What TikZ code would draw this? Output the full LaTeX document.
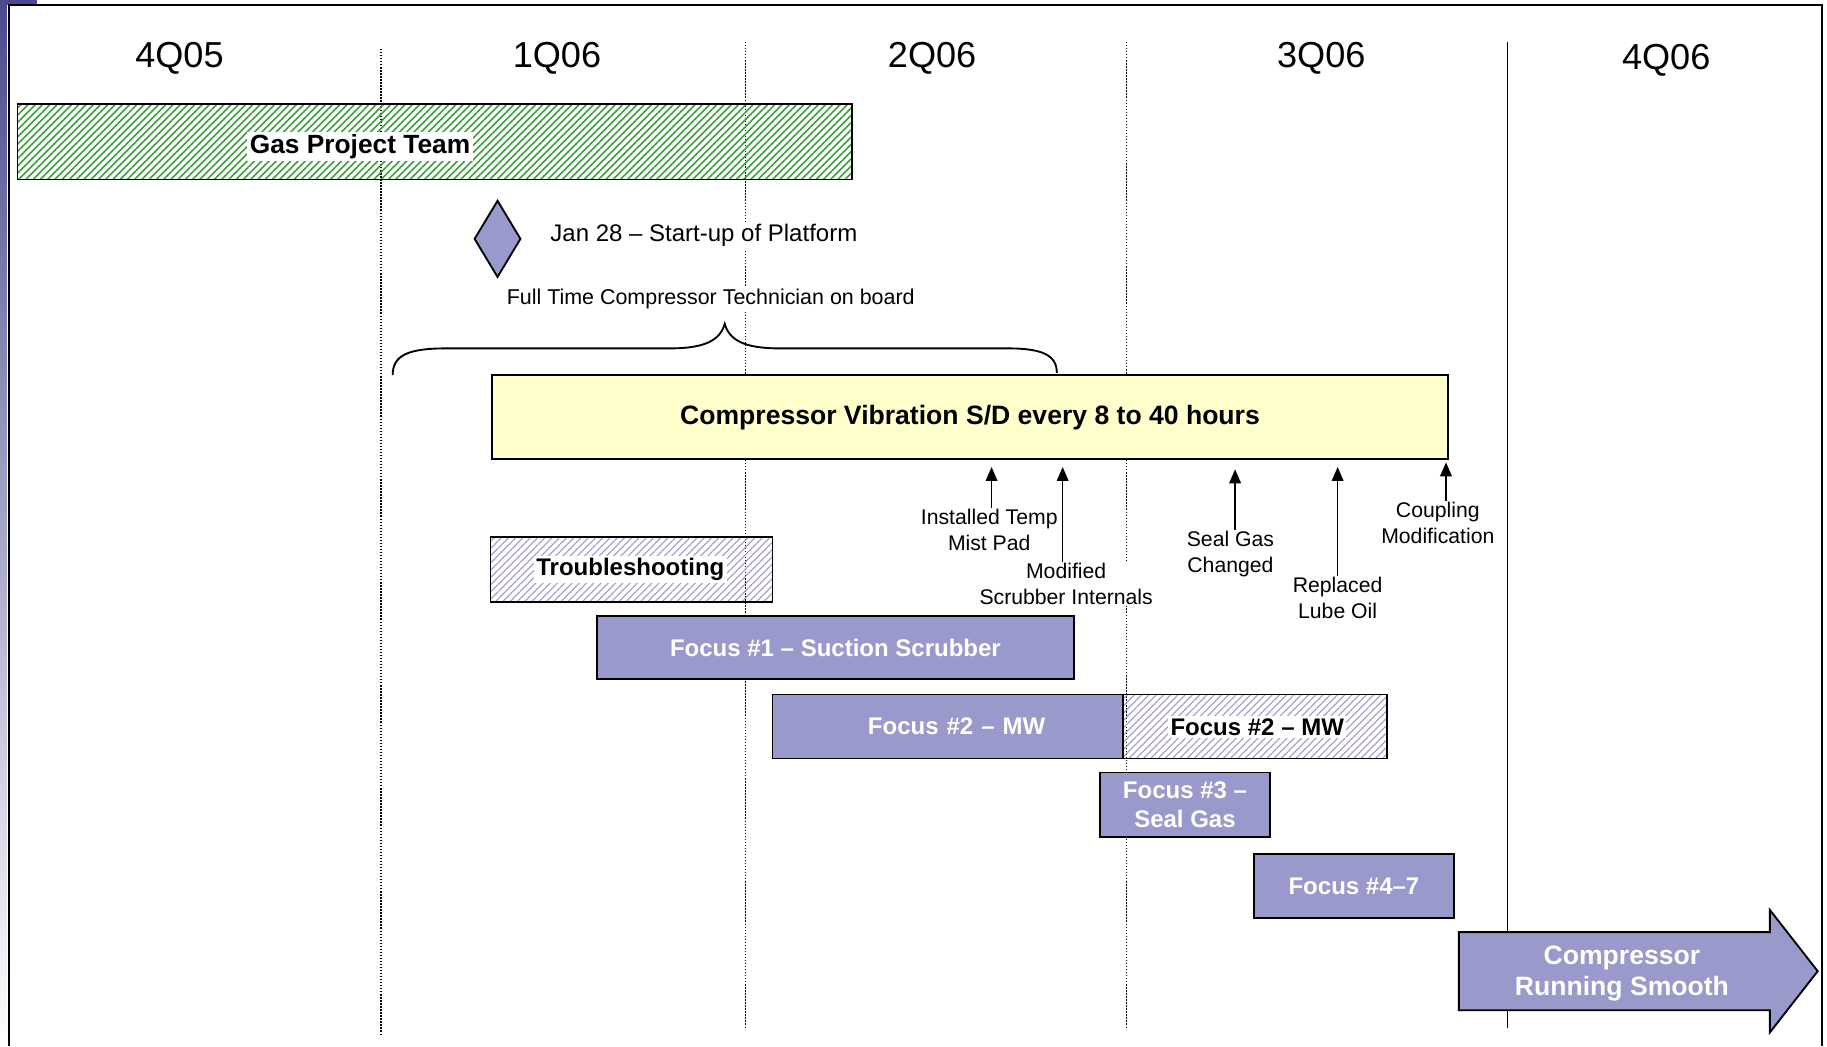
\documentclass[tikz,border=0pt]{standalone}
\usepackage{fontspec}
\setmainfont{Liberation Sans}
\usetikzlibrary{arrows.meta,patterns.meta,shapes.geometric}

\definecolor{focusblue}{HTML}{9999CC}
\definecolor{vibyellow}{HTML}{FFFFCC}
\definecolor{teamgreen}{HTML}{3A9E3A}
\definecolor{framepurple}{HTML}{4B4A8E}

\begin{document}
\begin{tikzpicture}[x=0.5pt,y=-0.5pt,
  bar/.style={draw,line width=0.8pt,inner sep=0pt},
  focusbar/.style={bar,fill=focusblue,text=white,align=center,font=\fontsize{10.3}{12.5}\selectfont\bfseries},
  hatchbar/.style={bar,pattern={Lines[angle=45,distance=2.2pt,line width=#1]}},
  tag/.style={fill=white,inner sep=1pt},
  quarter/.style={font=\fontsize{15.5}{18}\selectfont},
  divider/.style={line width=0.6pt,dash pattern=on 0.6pt off 0.7pt},
  event/.style={align=center,fill=white,inner sep=0.5pt,font=\fontsize{9.1}{11}\selectfont},
  eventarrow/.style={-{Triangle[length=6pt,width=5pt]},line width=0.7pt}]

\useasboundingbox (0,0) rectangle (1568,898);

% Frame
\shade[top color=framepurple,middle color=framepurple!75,bottom color=white] (0,0) rectangle (6,898);
\fill[framepurple] (0,0) rectangle (32,4.5);
\draw[line width=0.85pt] (7.7,898) -- (7.7,4.3) -- (1564,4.3) -- (1564,898);

% Quarters
\node[quarter] (q4a) at (154,50) {4Q05};
\node[quarter] (q1) at (478,50) {1Q06};
\node[quarter] (q2) at (800,50) {2Q06};
\node[quarter] (q3) at (1134,50) {3Q06};
\node[quarter] (q4b) at (1430,52) {4Q06};

% Dividers
\draw[divider] (327,42) -- (327,888);
\draw[divider] (640,36) -- (640,882);
\draw[divider] (967,36) -- (967,882);
\draw[line width=0.6pt] (1294,36) -- (1294,882);

% Gas project team
\node[hatchbar=0.7pt,pattern color=teamgreen,minimum width=358pt,minimum height=32.5pt] (team) at (373,121.5) {};
\node[tag,font=\fontsize{11.3}{13}\selectfont\bfseries] (teamtag) at (309,126) {Gas Project Team};

% Start-up milestone
\node[diamond,draw,fill=focusblue,line width=0.8pt,inner sep=0pt,minimum width=20pt,minimum height=33pt] (startup) at (427,205) {};
\node[tag,anchor=west,font=\fontsize{10.3}{12}\selectfont] (startuptag) at (470,202) {Jan 28 -- Start-up of Platform};
\node[tag,font=\fontsize{9.2}{11}\selectfont] (techtag) at (610,257) {Full Time Compressor Technician on board};

% Brace
\draw[line width=0.8pt] (337,322) .. controls (337,305) and (350,299) .. (383,299) -- (575,299)
  .. controls (605,299) and (618,292) .. (622,278)
  .. controls (626,292) and (639,299) .. (669,299) -- (865,299)
  .. controls (895,299) and (907,305) .. (907,320);

% Vibration problem
\node[bar,fill=vibyellow,minimum width=410.5pt,minimum height=36pt,font=\fontsize{11.4}{13}\selectfont\bfseries] (vib) at (832.5,358) {\raisebox{-2pt}{Compressor Vibration S/D every 8 to 40 hours}};

% Fixes
\node[event] (mist) at (849,455) {Installed Temp\\Mist Pad};
\node[event] (scrub) at (915,501) {Modified\\Scrubber Internals};
\node[event] (seal) at (1056,475.5) {Seal Gas\\Changed};
\node[event] (lube) at (1148,513) {Replaced\\Lube Oil};
\node[event] (coupling) at (1234,449) {Coupling\\Modification};

\draw[eventarrow,shorten >=3pt] ([xshift=1pt]mist.north) -- ([xshift=1pt]mist.north |- vib.south);
\draw[eventarrow,shorten >=3pt] ([xshift=-1.5pt]scrub.north) -- ([xshift=-1.5pt]scrub.north |- vib.south);
\draw[eventarrow,shorten >=4pt] ([xshift=2pt]seal.north) -- ([xshift=2pt]seal.north |- vib.south);
\draw[eventarrow,shorten >=3pt] (lube.north) -- (lube.north |- vib.south);
\draw[eventarrow,shorten >=1pt] ([xshift=3.5pt]coupling.north) -- ([xshift=3.5pt]coupling.north |- vib.south);

% Focus areas
\node[hatchbar=0.5pt,pattern color=focusblue,minimum width=121pt,minimum height=28pt] (trouble) at (542,489) {};
\node[tag,font=\fontsize{10.3}{12}\selectfont\bfseries] (troubletag) at (541,489) {Troubleshooting};

\node[focusbar,minimum width=205pt,minimum height=27pt] (focus1) at (717,556) {Focus \#1 -- Suction Scrubber};
\node[focusbar,minimum width=150.5pt,minimum height=27.5pt,text width=150.5pt] (focus2) at (813.5,623.5) {\hspace*{7.5pt}Focus \#2 -- MW};
\node[hatchbar=0.5pt,pattern color=focusblue,minimum width=113pt,minimum height=27.5pt] (focus2b) at (1077,623.5) {};
\node[tag,font=\fontsize{10.3}{12}\selectfont\bfseries] (focus2btag) at (1079,624) {Focus \#2 -- MW};
\node[focusbar,minimum width=73pt,minimum height=27.5pt] (focus3) at (1017,690.5) {Focus \#3 --\\Seal Gas};
\node[focusbar,minimum width=86pt,minimum height=27.5pt] (focus4) at (1162,760.5) {Focus \#4--7};

% Outcome
\draw[line width=0.8pt,fill=focusblue] (1252,800) -- (1519,800) -- (1519,781) -- (1560,833.5)
  -- (1519,886) -- (1519,867) -- (1252,867) -- cycle;
\node[align=center,text=white,font=\fontsize{11.4}{13.5}\selectfont\bfseries] (smooth) at (1392,835.5) {Compressor\\Running Smooth};

\end{tikzpicture}
\end{document}
